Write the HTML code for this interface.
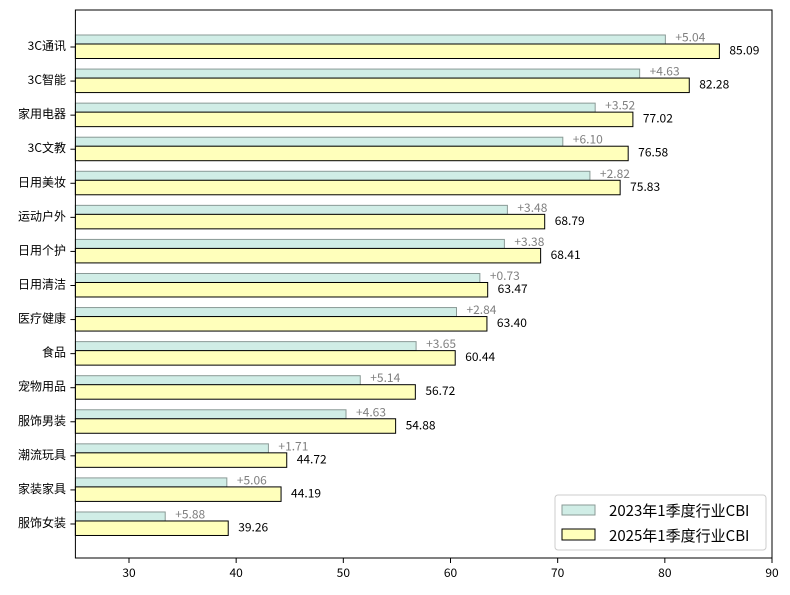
<!DOCTYPE html>
<html><head><meta charset="utf-8"><style>
html,body{margin:0;padding:0;background:#fff;}
svg text{font-family:"WenQuanYi Zen Hei","Noto Sans CJK SC",sans-serif;}
</style></head><body>
<svg id="s" width="790" height="590" xmlns="http://www.w3.org/2000/svg"></svg>
<script>
var cats=["3C通讯","3C智能","家用电器","3C文教","日用美妆","运动户外","日用个护","日用清洁","医疗健康","食品","宠物用品","服饰男装","潮流玩具","家装家具","服饰女装"];
var v25=[85.09,82.28,77.02,76.58,75.83,68.79,68.41,63.47,63.40,60.44,56.72,54.88,44.72,44.19,39.26];
var d=[5.04,4.63,3.52,6.10,2.82,3.48,3.38,0.73,2.84,3.65,5.14,4.63,1.71,5.06,5.88];
function X(v){return 75.4+(v-25)*10.717;}
var h='';
for(var i=0;i<15;i++){
 var t=47+34.07*i, v23=v25[i]-d[i];
 h+='<rect x="75.4" y="'+(t-12)+'" width="'+(X(v23)-75.4)+'" height="9" fill="#d0ede6" stroke="#8a9a96" stroke-width="1"/>';
 h+='<rect x="75.4" y="'+(t-3)+'" width="'+(X(v25[i])-75.4)+'" height="14.5" fill="#ffffbb" stroke="#000" stroke-width="1"/>';
 h+='<text x="'+(X(v23)+10)+'" y="'+(t-5.5)+'" font-size="12" fill="#808080">+'+d[i].toFixed(2)+'</text>';
 h+='<text x="'+(X(v25[i])+10)+'" y="'+(t+7.5)+'" font-size="12" fill="#000">'+v25[i].toFixed(2)+'</text>';
 h+='<line x1="70.4" x2="75.4" y1="'+t+'" y2="'+t+'" stroke="#000"/>';
 h+='<text x="66" y="'+(t+3)+'" font-size="12" text-anchor="end">'+cats[i]+'</text>';
}
for(var v=30;v<=90;v+=10){
 var x=X(v);
 h+='<line x1="'+x+'" x2="'+x+'" y1="558" y2="563" stroke="#000"/>';
 h+='<text x="'+x+'" y="577" font-size="12" text-anchor="middle">'+v+'</text>';
}
h+='<rect x="75.4" y="10" width="696.6" height="548" fill="none" stroke="#000" stroke-width="1"/>';
h+='<rect x="555" y="495" width="211" height="55" rx="3" fill="#fff" fill-opacity="0.85" stroke="#ccc"/>';
h+='<rect x="562" y="505" width="33" height="10" fill="#d0ede6" stroke="#8a9a96"/>';
h+='<rect x="562" y="529" width="33" height="11" fill="#ffffbb" stroke="#000"/>';
h+='<text x="609" y="516" font-size="15">2023年1季度行业CBI</text>';
h+='<text x="609" y="541" font-size="15">2025年1季度行业CBI</text>';
document.getElementById('s').innerHTML=h;
</script>
</body></html>
